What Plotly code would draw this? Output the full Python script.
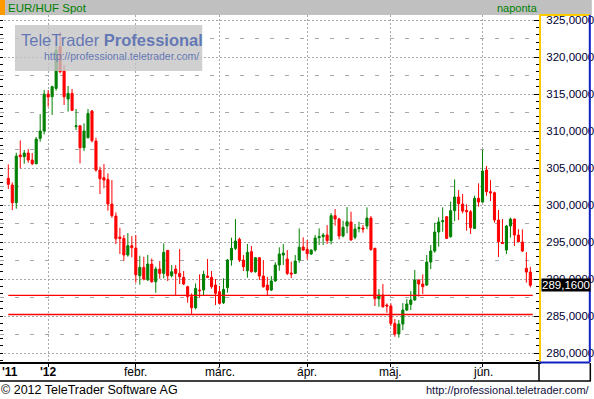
import plotly.graph_objects as go

# ---------------- data ----------------
opens = [303.60, 302.70, 300.31, 306.75, 306.53, 307.02, 306.07, 305.58, 309.00, 309.99,
         314.99, 314.63, 315.76, 321.39, 318.15, 314.32, 315.08, 310.58, 310.71, 307.74,
         309.09, 312.70, 308.64, 304.72, 303.69, 303.46, 300.13, 298.51, 295.67, 295.49,
         293.24, 294.50, 294.18, 290.44, 291.57, 289.90, 292.02, 289.63, 291.34, 290.76,
         293.87, 290.44, 291.34, 290.76, 290.22, 288.96, 287.61, 286.12, 288.51, 288.51,
         290.40, 290.22, 289.18, 288.28, 286.80, 288.82, 292.56, 294.14, 295.36, 292.56,
         291.12, 293.69, 290.99, 292.88, 290.40, 289.18, 288.51, 289.73, 291.89, 293.24,
         292.70, 290.81, 290.76, 292.56, 294.32, 294.01, 293.37, 293.91, 295.58, 295.72,
         295.94, 295.18, 298.56, 298.10, 295.81, 297.16, 297.70, 295.63, 296.80, 296.89,
         297.16, 298.24, 294.14, 287.34, 287.83, 286.48, 286.35, 284.00, 282.56, 283.91,
         285.80, 286.57, 287.16, 289.86, 289.32, 289.18, 292.29, 293.78, 296.35, 297.74,
         298.42, 295.72, 299.23, 301.08, 300.13, 299.27, 299.09, 296.84, 300.90, 300.40,
         304.73, 301.80, 301.66, 297.97, 294.95, 293.91, 297.16, 298.10, 295.94, 294.99,
         291.44, 290.94]
highs = [305.49, 303.06, 307.07, 308.73, 307.43, 307.56, 307.02, 309.18, 312.29, 315.54,
         315.54, 316.12, 322.00, 323.42, 318.91, 316.08, 315.67, 312.97, 310.75, 311.03,
         312.97, 312.83, 309.09, 305.17, 305.53, 304.27, 303.37, 299.00, 296.93, 295.94,
         296.21, 295.80, 295.94, 293.15, 293.01, 293.24, 292.78, 291.66, 292.42, 294.81,
         293.90, 291.88, 291.88, 294.05, 291.08, 289.09, 288.06, 289.41, 290.63, 291.12,
         292.70, 291.08, 290.00, 289.05, 290.09, 292.70, 295.58, 298.10, 295.58, 293.24,
         294.73, 294.46, 292.92, 292.97, 292.56, 290.27, 290.40, 292.25, 294.28, 294.73,
         293.91, 292.34, 293.24, 296.84, 295.63, 295.27, 294.01, 295.94, 296.84, 296.21,
         297.29, 298.92, 299.46, 298.28, 297.88, 299.73, 299.10, 297.43, 297.74, 297.29,
         299.68, 298.51, 294.23, 288.64, 289.32, 286.71, 286.71, 284.59, 284.45, 286.75,
         287.29, 288.37, 291.21, 289.95, 290.62, 293.24, 294.59, 297.61, 298.33, 299.68,
         298.51, 300.45, 303.46, 302.02, 301.48, 300.09, 299.32, 301.26, 302.92, 307.43,
         305.27, 303.37, 301.80, 299.32, 298.10, 297.29, 298.28, 298.15, 296.75, 296.71,
         293.64, 291.66]
lows = [302.16, 299.32, 299.50, 304.95, 305.58, 305.71, 305.40, 305.49, 308.55, 309.54,
        313.28, 312.16, 315.45, 317.80, 313.51, 312.61, 312.70, 310.13, 305.62, 307.29,
        309.00, 308.46, 304.50, 301.48, 302.25, 299.23, 298.28, 294.72, 293.37, 292.47,
        293.01, 292.92, 289.50, 289.23, 289.81, 289.72, 289.50, 288.14, 290.04, 290.08,
        289.72, 290.22, 287.83, 289.32, 289.18, 286.80, 285.27, 285.90, 287.47, 287.83,
        290.13, 288.69, 286.48, 286.57, 286.62, 288.15, 291.80, 293.91, 292.29, 291.08,
        290.18, 290.85, 290.85, 289.86, 288.82, 287.83, 288.37, 289.64, 291.12, 291.89,
        290.54, 290.13, 290.67, 292.20, 293.78, 292.65, 293.24, 293.69, 294.59, 294.59,
        294.73, 294.68, 297.20, 295.36, 295.63, 296.17, 295.18, 295.36, 296.30, 296.26,
        296.71, 293.82, 286.35, 286.25, 286.12, 285.44, 283.64, 282.20, 282.07, 283.10,
        285.67, 285.80, 287.07, 287.61, 287.97, 289.09, 291.35, 293.55, 294.36, 296.39,
        295.40, 295.58, 297.83, 297.97, 298.87, 296.53, 296.08, 296.75, 299.77, 300.31,
        301.26, 300.54, 297.61, 292.97, 294.72, 293.37, 295.58, 294.45, 294.95, 293.64,
        289.50, 288.87]
closes = [302.79, 300.31, 306.62, 306.53, 307.02, 306.07, 305.58, 308.91, 309.99, 314.99,
          314.59, 315.99, 320.94, 318.01, 314.63, 315.08, 312.79, 310.71, 307.74, 309.99,
          312.38, 308.69, 304.72, 303.55, 303.37, 300.13, 298.55, 295.44, 295.49, 293.24,
          294.50, 294.23, 290.58, 291.57, 289.99, 292.02, 289.63, 291.34, 290.76, 293.60,
          290.44, 290.98, 290.76, 290.31, 289.32, 287.61, 286.12, 288.73, 288.42, 290.63,
          290.22, 288.96, 288.06, 286.71, 288.60, 292.56, 294.14, 295.13, 292.56, 291.66,
          293.60, 290.99, 292.88, 290.40, 288.96, 288.51, 289.73, 291.89, 293.37, 293.51,
          290.76, 290.67, 292.43, 294.28, 293.91, 293.42, 293.91, 295.54, 295.72, 295.94,
          295.18, 298.56, 298.10, 295.81, 296.98, 297.74, 295.27, 296.75, 296.93, 296.75,
          298.24, 294.00, 287.34, 287.83, 286.25, 286.35, 284.00, 282.56, 283.91, 285.80,
          286.62, 287.16, 289.86, 289.32, 288.96, 292.29, 293.78, 296.35, 297.70, 297.88,
          295.49, 299.23, 301.08, 300.18, 299.18, 299.09, 296.93, 300.90, 300.40, 304.59,
          301.80, 301.62, 297.97, 295.04, 294.81, 297.16, 298.10, 295.94, 295.04, 293.78,
          290.94, 289.16]

month_tick_index = [10, 32, 53, 75, 96, 119]
month_tick_text = ["<b>'12</b>", "febr.", "márc.", "ápr.", "máj.", "jún."]
first_year_label = "<b>'11</b>"
support_levels = [287.8, 285.2]
last_price_text = "289,1600"

# ---------------- figure ----------------
W, H = 594, 399
ML, MR, MT, MB = 0, 53, 15, 37
PW, PH = W - ML - MR, H - MT - MB
FONT = "Liberation Sans"


def PX(x):
    return (x - ML) / PW


def PY(y):
    return (H - MB - y) / PH


n = len(closes)
xs = list(range(n))
yrange = [278.784, 325.676]

fig = go.Figure()
fig.add_trace(go.Candlestick(
    x=xs, open=opens, high=highs, low=lows, close=closes,
    increasing=dict(line=dict(color="#008000", width=1), fillcolor="#008000"),
    decreasing=dict(line=dict(color="#ff0000", width=1), fillcolor="#ff0000"),
    whiskerwidth=0, hoverinfo="skip", showlegend=False,
))
fig.add_trace(go.Scatter(x=[], y=[], yaxis="y2", showlegend=False))
fig.add_trace(go.Scatter(x=[], y=[], yaxis="y3", showlegend=False))

grid_col = "#a8a8a8"
fig.update_layout(
    width=W, height=H,
    margin=dict(l=ML, r=MR, t=MT, b=MB, pad=0),
    paper_bgcolor="white", plot_bgcolor="white",
    separators=", ",
    boxgap=0.25,
    showlegend=False,
    font=dict(family=FONT, size=11, color="black"),
    xaxis=dict(
        range=[-2.083, 133.17], tickmode="array",
        tickvals=month_tick_index, ticktext=month_tick_text, showticklabels=False,
        showgrid=True, gridcolor=grid_col, griddash="2px,2px", gridwidth=1,
        showline=True, linecolor="black", linewidth=2,
        ticks="outside", ticklen=3, tickcolor="black",
        zeroline=False, rangeslider=dict(visible=False), fixedrange=True,
    ),
    yaxis=dict(
        side="right", range=yrange, tick0=0, dtick=5, tickformat=".4f",
        showgrid=True, gridcolor=grid_col, griddash="2px,2px", gridwidth=1,
        showline=True, linecolor="#ffcc00", linewidth=2,
        ticks="inside", ticklen=5, tickcolor="black",
        minor=dict(dtick=1, ticks="inside", ticklen=3, tickcolor="black", showgrid=False),
        tickfont=dict(family=FONT, size=11.5, color="#000033"),
        ticklabelstandoff=3,
        zeroline=False, fixedrange=True,
    ),
    yaxis2=dict(
        overlaying="y", side="right", range=yrange, tick0=2.5, dtick=5,
        showgrid=True, gridcolor=grid_col, griddash="4px,11px", gridwidth=1,
        showticklabels=False, ticks="", showline=False, zeroline=False, fixedrange=True,
    ),
    yaxis3=dict(
        overlaying="y", side="left", range=yrange, tick0=0, dtick=1,
        showgrid=False, showticklabels=False, ticks="inside", ticklen=3,
        tickcolor="black", showline=False, zeroline=False, fixedrange=True,
    ),
)

shapes = []
# support / resistance lines
for lvl in support_levels:
    shapes.append(dict(type="line", xref="x", yref="y", x0=0, x1=n - 1 + 0.6,
                       y0=lvl, y1=lvl, line=dict(color="#ff0000", width=1.3), layer="above"))


def pline(x0, y0, x1, y1, color, width):
    shapes.append(dict(type="line", xref="paper", yref="paper",
                       x0=PX(x0), y0=PY(y0), x1=PX(x1), y1=PY(y1),
                       line=dict(color=color, width=width), layer="above"))


def prect(x0, y0, x1, y1, color, opacity=1.0):
    shapes.append(dict(type="rect", xref="paper", yref="paper",
                       x0=PX(x0), y0=PY(y0), x1=PX(x1), y1=PY(y1),
                       fillcolor=color, line=dict(width=0), opacity=opacity, layer="above"))


# header bar
prect(0, 0, 594, 15, "#c0c0c0")
prect(0, 0, 5, 15, "#ff9900")
# right axis panel frame
pline(541, 15, 592, 15, "#ffcc00", 2)
pline(592, 15, 592, 362, "#1020c0", 2)
pline(541, 362.5, 592, 362.5, "#1020c0", 2)
# bottom time-axis frame
pline(0, 381, 593, 381, "black", 1.5)
pline(541, 363, 541, 381, "black", 1.5)
pline(592.5, 363, 592.5, 381, "black", 1.5)
# watermark box
prect(15, 25, 203, 71, "#c4c4c4", 0.8)
fig.update_layout(shapes=shapes)

ann = []


def ptext(x, y, text, size, color, xanchor="left", family=FONT, yref="paper", bg=None):
    d = dict(xref="paper", yref=yref, x=PX(x), y=(PY(y) if yref == "paper" else y),
             text=text, showarrow=False, xanchor=xanchor, yanchor="middle",
             font=dict(family=family, size=size, color=color), borderpad=0)
    if bg:
        d["bgcolor"] = bg
    ann.append(d)


ptext(7, 8, "EUR/HUF Spot", 11.5, "#008000")
ptext(519, 8, "naponta", 11, "#008000", xanchor="center")
ptext(112, 40, "TeleTrader <b>Professional</b>", 16.5, "rgba(85,108,178,0.9)", xanchor="center")
ptext(122, 56, "http://professional.teletrader.com/", 10.5, "rgba(85,108,178,0.9)", xanchor="center")
ptext(10, 372, first_year_label, 12, "black", xanchor="center")
# month labels of the time axis (at the tick positions)
for ti, tt in zip(month_tick_index, month_tick_text):
    ann.append(dict(xref="x", yref="paper", x=ti, y=PY(372), text=tt, showarrow=False,
                    xanchor="center", yanchor="middle", borderpad=0,
                    font=dict(family=FONT, size=12, color="black")))
ptext(0, 390, "© 2012 TeleTrader Software AG", 12.5, "black")
ptext(593, 390, "http://professional.teletrader.com/", 11, "#101040", xanchor="right")
ann.append(dict(xref="paper", yref="y", x=PX(543), y=closes[-1], text=last_price_text,
                showarrow=False, xanchor="left", yanchor="middle", bgcolor="black",
                borderpad=0, font=dict(family=FONT, size=11.5, color="white")))
fig.update_layout(annotations=ann)

fig.write_html("out.html", config={"displayModeBar": False},
               post_script="document.body.style.margin='0';document.body.style.overflow='hidden';")
